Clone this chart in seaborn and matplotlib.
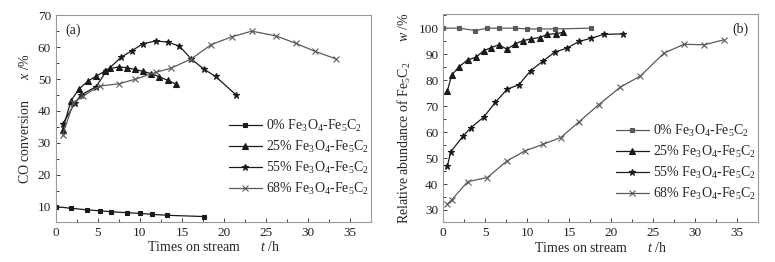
import matplotlib
matplotlib.use('Agg')
import matplotlib.pyplot as plt
import seaborn as sns
from matplotlib.ticker import MultipleLocator

# panel (a): CO conversion
a0_t = [0, 1.8, 3.7, 5.2, 6.6, 8.5, 10.0, 11.4, 13.2, 17.6]
a0_y = [10.0, 9.5, 9.0, 8.7, 8.4, 8.1, 7.9, 7.6, 7.3, 6.9]
a25_t = [0.8, 1.8, 2.8, 3.8, 4.8, 5.8, 6.5, 7.5, 8.5, 9.4, 10.4, 11.3, 12.3, 13.3, 14.3]
a25_y = [34.0, 43.2, 47.0, 49.3, 50.9, 52.4, 53.3, 53.8, 53.5, 53.0, 52.4, 51.7, 50.7, 49.6, 48.4]
a55_t = [0.8, 2.3, 3.0, 4.8, 6.0, 7.8, 9.0, 10.4, 11.9, 13.3, 14.7, 16.1, 17.6, 19.0, 21.4]
a55_y = [35.8, 42.6, 45.0, 47.6, 52.5, 56.9, 58.8, 61.1, 61.9, 61.6, 60.3, 56.3, 53.1, 50.8, 45.1]
a68_t = [0.8, 2.1, 3.2, 5.2, 7.5, 9.4, 11.9, 13.7, 16.1, 18.5, 20.9, 23.3, 26.2, 28.5, 30.8, 33.3]
a68_y = [32.5, 42.5, 44.6, 47.8, 48.5, 49.9, 52.1, 53.4, 56.3, 60.8, 63.2, 65.0, 63.5, 61.2, 58.7, 56.3]

# panel (b): relative abundance of Fe5C2
b0_t = [0, 1.9, 3.8, 5.25, 6.6, 8.6, 10.0, 11.4, 13.3, 17.6]
b0_y = [100, 100, 99.1, 100, 100, 100, 99.7, 99.7, 99.7, 100]
b25_t = [0.5, 1.0, 1.9, 2.9, 3.9, 4.8, 5.7, 6.6, 7.6, 8.6, 9.5, 10.5, 11.5, 12.4, 13.4, 14.3]
b25_y = [76, 82, 85.2, 87.8, 88.8, 91.3, 92.5, 93.6, 91.9, 94.0, 95.2, 95.9, 96.4, 97.6, 97.9, 98.4]
b55_t = [0.5, 0.9, 2.4, 3.3, 4.8, 6.2, 7.6, 9.0, 10.4, 11.9, 13.3, 14.7, 16.2, 17.6, 19.1, 21.4]
b55_y = [47.1, 52.5, 58.6, 61.7, 65.7, 71.4, 76.5, 78.2, 83.6, 87.4, 90.8, 92.3, 94.9, 96.1, 97.6, 97.8]
b68_t = [0.5, 1.0, 2.9, 5.25, 7.6, 9.7, 11.9, 14.0, 16.2, 18.5, 21.1, 23.5, 26.3, 28.7, 31.1, 33.4]
b68_y = [32.3, 33.9, 40.9, 42.5, 48.9, 52.7, 55.3, 57.9, 64.0, 70.5, 77.3, 81.6, 90.4, 93.8, 93.6, 95.5]

labels = ['0% Fe$_3$O$_4$-Fe$_5$C$_2$', '25% Fe$_3$O$_4$-Fe$_5$C$_2$',
          '55% Fe$_3$O$_4$-Fe$_5$C$_2$', '68% Fe$_3$O$_4$-Fe$_5$C$_2$']
markers = ['s', '^', '*', 'x']
msizes = [3.5, 4, 5, 4.5]

sns.set_style('ticks')
plt.rcParams['font.family'] = ['Liberation Serif', 'DejaVu Serif']
plt.rcParams['mathtext.fontset'] = 'custom'
plt.rcParams['mathtext.rm'] = 'Liberation Serif'
plt.rcParams['mathtext.it'] = 'Liberation Serif:italic'
plt.rcParams['xtick.direction'] = 'in'
plt.rcParams['ytick.direction'] = 'in'

fig = plt.figure(figsize=(7.75, 2.62), dpi=100)
ax1 = fig.add_axes([0.072, 0.154, 0.407, 0.788])
ax2 = fig.add_axes([0.572, 0.151, 0.406, 0.796])

dark = '#1a1a1a'
grey = '#5a5a5a'


def draw(ax, series, colors):
    for (t, y), lab, m, ms, c in zip(series, labels, markers, msizes, colors):
        sns.lineplot(x=t, y=y, ax=ax, label=lab, color=c, marker=m,
                     markersize=ms, markeredgecolor=c, markeredgewidth=0.8,
                     linewidth=0.9, sort=False)


draw(ax1, [(a0_t, a0_y), (a25_t, a25_y), (a55_t, a55_y), (a68_t, a68_y)],
     [dark, dark, dark, grey])
draw(ax2, [(b0_t, b0_y), (b25_t, b25_y), (b55_t, b55_y), (b68_t, b68_y)],
     [grey, dark, dark, grey])

for ax, top in ((ax1, 0.53), (ax2, 0.505)):
    ax.set_xlim(0, 37.5)
    ax.xaxis.set_major_locator(MultipleLocator(5))
    ax.xaxis.set_minor_locator(MultipleLocator(2.5))
    ax.yaxis.set_major_locator(MultipleLocator(10))
    ax.yaxis.set_minor_locator(MultipleLocator(5))
    ax.tick_params(which='both', labelsize=9.5, colors='#222222', length=3, width=0.6)
    ax.tick_params(which='minor', length=2)
    for s in ax.spines.values():
        s.set_color('#999999')
        s.set_linewidth(0.8)
    ax.set_xlabel('Times on stream      $t$ /h', fontsize=10, labelpad=1)
    ax.legend(loc='upper left', bbox_to_anchor=(0.53, top), frameon=False,
              fontsize=10, handlelength=2.4, labelspacing=0.35,
              handletextpad=0.3, borderaxespad=0)

ax1.set_ylim(5.3, 70)
ax1.set_ylabel('CO conversion      $x$ /%', fontsize=10, labelpad=4)
ax1.text(0.03, 0.96, '(a)', transform=ax1.transAxes, fontsize=10, va='top')

ax2.set_ylim(25.2, 105.5)
ax2.set_ylabel('Relative abundance of Fe$_5$C$_2$      $w$ /%', fontsize=10, labelpad=4)
ax2.text(0.97, 0.96, '(b)', transform=ax2.transAxes, fontsize=10, va='top', ha='right')

fig.savefig('out.png', dpi=100)
